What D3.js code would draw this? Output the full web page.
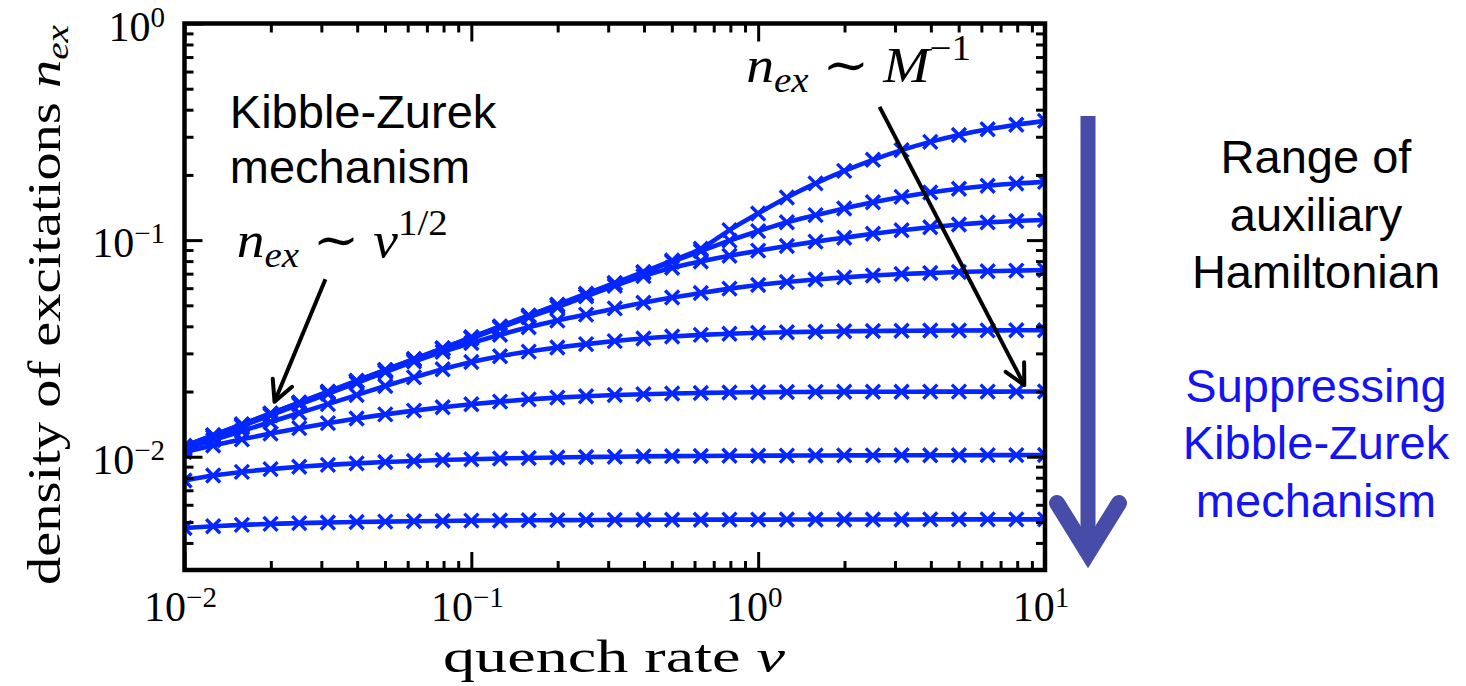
<!DOCTYPE html>
<html><head><meta charset="utf-8">
<script src="https://cdn.jsdelivr.net/npm/d3@7"></script>
<style>body{margin:0;background:#fff;} svg{display:block;}</style>
</head><body>
<script>
// ---------- data ----------
const quenchRates = [0.01, 0.01259, 0.01585, 0.01995, 0.02512, 0.03162, 0.03981, 0.05012, 0.0631, 0.07943,
  0.1, 0.1259, 0.1585, 0.1995, 0.2512, 0.3162, 0.3981, 0.5012, 0.631, 0.7943,
  1, 1.259, 1.585, 1.995, 2.512, 3.162, 3.981, 5.012, 6.31, 7.943, 10];

const nexRange1 = [0.01120, 0.01257, 0.01411, 0.01584, 0.01779, 0.01997, 0.02242, 0.02517, 0.02825, 0.03172,
  0.03561, 0.03998, 0.04488, 0.05038, 0.05656, 0.06349, 0.07128, 0.0805, 0.0912, 0.1112,
  0.1328, 0.1573, 0.1827, 0.2087, 0.2348, 0.2603, 0.2842, 0.3057, 0.3247, 0.3410, 0.3553];
const nexRange2 = [0.01118, 0.01255, 0.01408, 0.01581, 0.01775, 0.01993, 0.02237, 0.02511, 0.02818, 0.03163,
  0.03550, 0.03984, 0.04470, 0.05014, 0.05622, 0.06300, 0.07060, 0.0795, 0.0890, 0.0995,
  0.1100, 0.1210, 0.1304, 0.1400, 0.1495, 0.1583, 0.1660, 0.1727, 0.1782, 0.1825, 0.1858];
const nexRange3 = [0.01116, 0.01252, 0.01405, 0.01577, 0.01770, 0.01986, 0.02228, 0.02499, 0.02802, 0.03141,
  0.03520, 0.03940, 0.0440, 0.0490, 0.0550, 0.0615, 0.0682, 0.0745, 0.0797, 0.0847,
  0.0894, 0.0940, 0.0984, 0.1026, 0.1070, 0.1110, 0.1147, 0.1180, 0.1207, 0.1226, 0.1238];
const nexRange4 = [0.01098, 0.01232, 0.01383, 0.01552, 0.01741, 0.01953, 0.0219, 0.0246, 0.0275, 0.0305,
  0.0335, 0.0366, 0.0396, 0.0425, 0.0453, 0.0484, 0.0514, 0.0543, 0.0570, 0.0597,
  0.0621, 0.0641, 0.0658, 0.0673, 0.0686, 0.0697, 0.0705, 0.0712, 0.0718, 0.0723, 0.0727];
const nexRange5 = [0.01085, 0.01194, 0.01314, 0.01446, 0.01591, 0.01750, 0.01926, 0.02120, 0.02325, 0.02536,
  0.02738, 0.02912, 0.03058, 0.03191, 0.03311, 0.03419, 0.03515, 0.03590, 0.03652, 0.03699,
  0.03734, 0.03758, 0.03778, 0.03794, 0.03806, 0.03815, 0.03823, 0.03827, 0.03831, 0.03835, 0.03839];
const nexRange6 = [0.01051, 0.01126, 0.01203, 0.01279, 0.01355, 0.01429, 0.01501, 0.01569, 0.01633, 0.01693,
  0.01748, 0.01797, 0.01840, 0.01875, 0.01903, 0.01926, 0.01944, 0.01959, 0.01969, 0.01978,
  0.01984, 0.01989, 0.01992, 0.01994, 0.01995, 0.01996, 0.01997, 0.01998, 0.01998, 0.01999, 0.02000];
const nexRange7 = [0.007767, 0.008190, 0.008510, 0.008766, 0.008983, 0.009167, 0.009322, 0.009454, 0.009564, 0.009656,
  0.009739, 0.009811, 0.009874, 0.009927, 0.009968, 0.010005, 0.010037, 0.010064, 0.010085, 0.010101,
  0.010112, 0.010123, 0.010134, 0.010145, 0.010150, 0.010155, 0.010161, 0.010166, 0.010172, 0.010177, 0.010182];
const nexRange8 = [0.004688, 0.004778, 0.004845, 0.004896, 0.004938, 0.004972, 0.004998, 0.005019, 0.005038, 0.005054,
  0.005068, 0.005079, 0.005088, 0.005096, 0.005104, 0.005109, 0.005115, 0.005118, 0.005121, 0.005124,
  0.005126, 0.005128, 0.005130, 0.005132, 0.005134, 0.005135, 0.005136, 0.005137, 0.005138, 0.005139, 0.005140];

const allSeries = [nexRange1, nexRange2, nexRange3, nexRange4, nexRange5, nexRange6, nexRange7, nexRange8];

const xTickExponents = [-2, -1, 0, 1];
const yTickExponents = [-2, -1, 0];
const minorMultipliers = [2, 3, 4, 5, 6, 7, 8, 9];

const xLabel = "quench rate ";
const yLabel = "density of excitations ";
const kzText = ["Kibble-Zurek", "mechanism"];
const rangeText = ["Range of", "auxiliary", "Hamiltonian"];
const suppressText = ["Suppressing", "Kibble-Zurek", "mechanism"];

// annotation anchor points in data coordinates
const kzArrow = {from: [0.031, 0.0659], to: [0.0206, 0.01794]};
const mArrow = {from: [2.65, 0.412], to: [8.47, 0.0214]};
const kzLawPos = [0.0152, 0.0839];
const mLawPos = [0.908, 0.539];
const kzTextPos = [0.01439, 0.3278];

// ---------- drawing ----------
const W = 1466, H = 686;
const serif = "'Liberation Serif', 'DejaVu Serif', serif";
const sans = "'Liberation Sans', Arial, sans-serif";
const lineColor = "#0426ff";

const svg = d3.select("body").append("svg").attr("width", W).attr("height", H)
  .style("background", "#fff");

const x = d3.scaleLog().domain([0.01, 10]).range([184.5, 1045]);
const y = d3.scaleLog().domain([0.003, 1]).range([570, 23.5]);

svg.append("defs").append("clipPath").attr("id", "plotclip")
  .append("rect").attr("x", x.range()[0]).attr("y", y.range()[1])
  .attr("width", x.range()[1] - x.range()[0]).attr("height", y.range()[0] - y.range()[1]);

const plot = svg.append("g").attr("clip-path", "url(#plotclip)");

const line = d3.line().x(d => x(d[0])).y(d => y(d[1])).curve(d3.curveMonotoneX);

allSeries.slice().reverse().forEach(s => {
  const pts = quenchRates.map((v, i) => [v, s[i]]);
  plot.append("path").attr("d", line(pts)).attr("fill", "none")
    .attr("stroke", lineColor).attr("stroke-width", 4.6).attr("stroke-linejoin", "round");
  plot.selectAll(null).data(pts).enter().append("path")
    .attr("transform", d => `translate(${x(d[0])},${y(d[1])})`)
    .attr("d", "M-7,-7L7,7M-7,7L7,-7")
    .attr("stroke", lineColor).attr("stroke-width", 3.4).attr("fill", "none");
});

// ticks (inward, all four sides)
const xMajor = xTickExponents.map(e => Math.pow(10, e));
const xMinor = [];
[-2, -1, 0].forEach(e => minorMultipliers.forEach(m => xMinor.push(m * Math.pow(10, e))));
const yMajor = yTickExponents.map(e => Math.pow(10, e));
const yMinor = [];
[-3, -2, -1].forEach(e => minorMultipliers.forEach(m => {
  const v = m * Math.pow(10, e);
  if (v > 0.0031) yMinor.push(v);
}));

function axisG(axis, tr) {
  const g = svg.append("g").attr("transform", tr).call(axis);
  g.select(".domain").remove();
  g.selectAll("text").remove();
  g.selectAll("line").attr("stroke", "#000").attr("stroke-width", 3);
  return g;
}
const majLen = 18, minLen = 9;
[[xMajor, majLen], [xMinor, minLen]].forEach(([vals, len]) => {
  axisG(d3.axisBottom(x).tickValues(vals).tickSize(-len).tickFormat(""), `translate(0,${y.range()[0]})`);
  axisG(d3.axisTop(x).tickValues(vals).tickSize(-len).tickFormat(""), `translate(0,${y.range()[1]})`);
});
[[yMajor, majLen], [yMinor, minLen]].forEach(([vals, len]) => {
  axisG(d3.axisLeft(y).tickValues(vals).tickSize(-len).tickFormat(""), `translate(${x.range()[0]},0)`);
  axisG(d3.axisRight(y).tickValues(vals).tickSize(-len).tickFormat(""), `translate(${x.range()[1]},0)`);
});

// frame
svg.append("rect").attr("x", x.range()[0]).attr("y", y.range()[1])
  .attr("width", x.range()[1] - x.range()[0]).attr("height", y.range()[0] - y.range()[1])
  .attr("fill", "none").attr("stroke", "#000").attr("stroke-width", 4.5);

// tick labels
function powerLabel(sel, e) {
  sel.append("tspan").text("10").attr("font-size", 42);
  sel.append("tspan").text(e < 0 ? "\u2212" + (-e) : String(e)).attr("font-size", 29).attr("dy", -14);
}
xTickExponents.forEach(e => {
  const t = svg.append("text").attr("x", x(Math.pow(10, e)) - 4).attr("y", 621)
    .attr("text-anchor", "middle").attr("font-family", serif).attr("fill", "#000");
  powerLabel(t, e);
});
yTickExponents.forEach(e => {
  const t = svg.append("text").attr("x", 165).attr("y", y(Math.pow(10, e)) + 17)
    .attr("text-anchor", "end").attr("font-family", serif).attr("fill", "#000");
  powerLabel(t, e);
});

// axis labels
const xl = svg.append("text").attr("x", 443).attr("y", 672)
  .attr("font-family", serif).attr("font-size", 46).attr("fill", "#000")
  .attr("textLength", 342).attr("lengthAdjust", "spacingAndGlyphs");
xl.append("tspan").text(xLabel);
xl.append("tspan").text("v").attr("font-style", "italic");

const yl = svg.append("text").attr("transform", "translate(60,585) rotate(-90)")
  .attr("font-family", serif).attr("font-size", 46).attr("fill", "#000")
  .attr("textLength", 560).attr("lengthAdjust", "spacingAndGlyphs");
yl.append("tspan").text(yLabel);
yl.append("tspan").text("n").attr("font-style", "italic");
yl.append("tspan").text("ex").attr("font-style", "italic").attr("font-size", 32).attr("dy", 8);

// math annotations
function lawText(pos, base, supTxt, len) {
  const t = svg.append("text").attr("x", x(pos[0])).attr("y", y(pos[1]))
    .attr("font-family", serif).attr("font-size", 50).attr("fill", "#000")
    .attr("textLength", len).attr("lengthAdjust", "spacingAndGlyphs");
  t.append("tspan").text("n").attr("font-style", "italic");
  t.append("tspan").text("ex").attr("font-style", "italic").attr("font-size", 35).attr("dy", 10);
  t.append("tspan").text(" \u223C ").attr("dy", -10);
  t.append("tspan").text(base).attr("font-style", "italic");
  t.append("tspan").text(supTxt).attr("font-size", 35).attr("dy", -22);
}
lawText(kzLawPos, "v", "1/2", 211);
lawText(mLawPos, "M", "\u22121", 225);

function arrow(a) {
  const x0 = x(a.from[0]), y0 = y(a.from[1]), x1 = x(a.to[0]), y1 = y(a.to[1]);
  const ang = Math.atan2(y0 - y1, x0 - x1);
  const L = 23, spread = 27 * Math.PI / 180;
  svg.append("line").attr("x1", x0).attr("y1", y0).attr("x2", x1).attr("y2", y1)
    .attr("stroke", "#000").attr("stroke-width", 4);
  const p = `M${x1 + L * Math.cos(ang - spread)},${y1 + L * Math.sin(ang - spread)}L${x1},${y1}L${x1 + L * Math.cos(ang + spread)},${y1 + L * Math.sin(ang + spread)}`;
  svg.append("path").attr("d", p).attr("fill", "none").attr("stroke", "#000")
    .attr("stroke-width", 4).attr("stroke-linejoin", "round").attr("stroke-linecap", "round");
}
arrow(kzArrow);
arrow(mArrow);

// Kibble-Zurek text inside plot
kzText.forEach((s, i) => {
  svg.append("text").attr("x", x(kzTextPos[0])).attr("y", y(kzTextPos[1]) + i * 55)
    .attr("font-family", sans).attr("font-size", 47).attr("fill", "#000").text(s);
});

// right-side annotation
const arrowColor = "#464ca8";
svg.append("line").attr("x1", 1088).attr("y1", 116).attr("x2", 1088).attr("y2", 556)
  .attr("stroke", arrowColor).attr("stroke-width", 15);
svg.append("path").attr("d", "M1057,503L1088,553L1119,503").attr("fill", "none")
  .attr("stroke", arrowColor).attr("stroke-width", 16).attr("stroke-linecap", "round")
  .attr("stroke-linejoin", "miter").attr("stroke-miterlimit", 10);

rangeText.forEach((s, i) => {
  svg.append("text").attr("x", 1316).attr("y", 173 + i * 57.5).attr("text-anchor", "middle")
    .attr("font-family", sans).attr("font-size", 47).attr("fill", "#000").text(s);
});
suppressText.forEach((s, i) => {
  svg.append("text").attr("x", 1316).attr("y", 401.5 + i * 57.5).attr("text-anchor", "middle")
    .attr("font-family", sans).attr("font-size", 47).attr("fill", "#1414f2").text(s);
});
</script>
</body></html>
